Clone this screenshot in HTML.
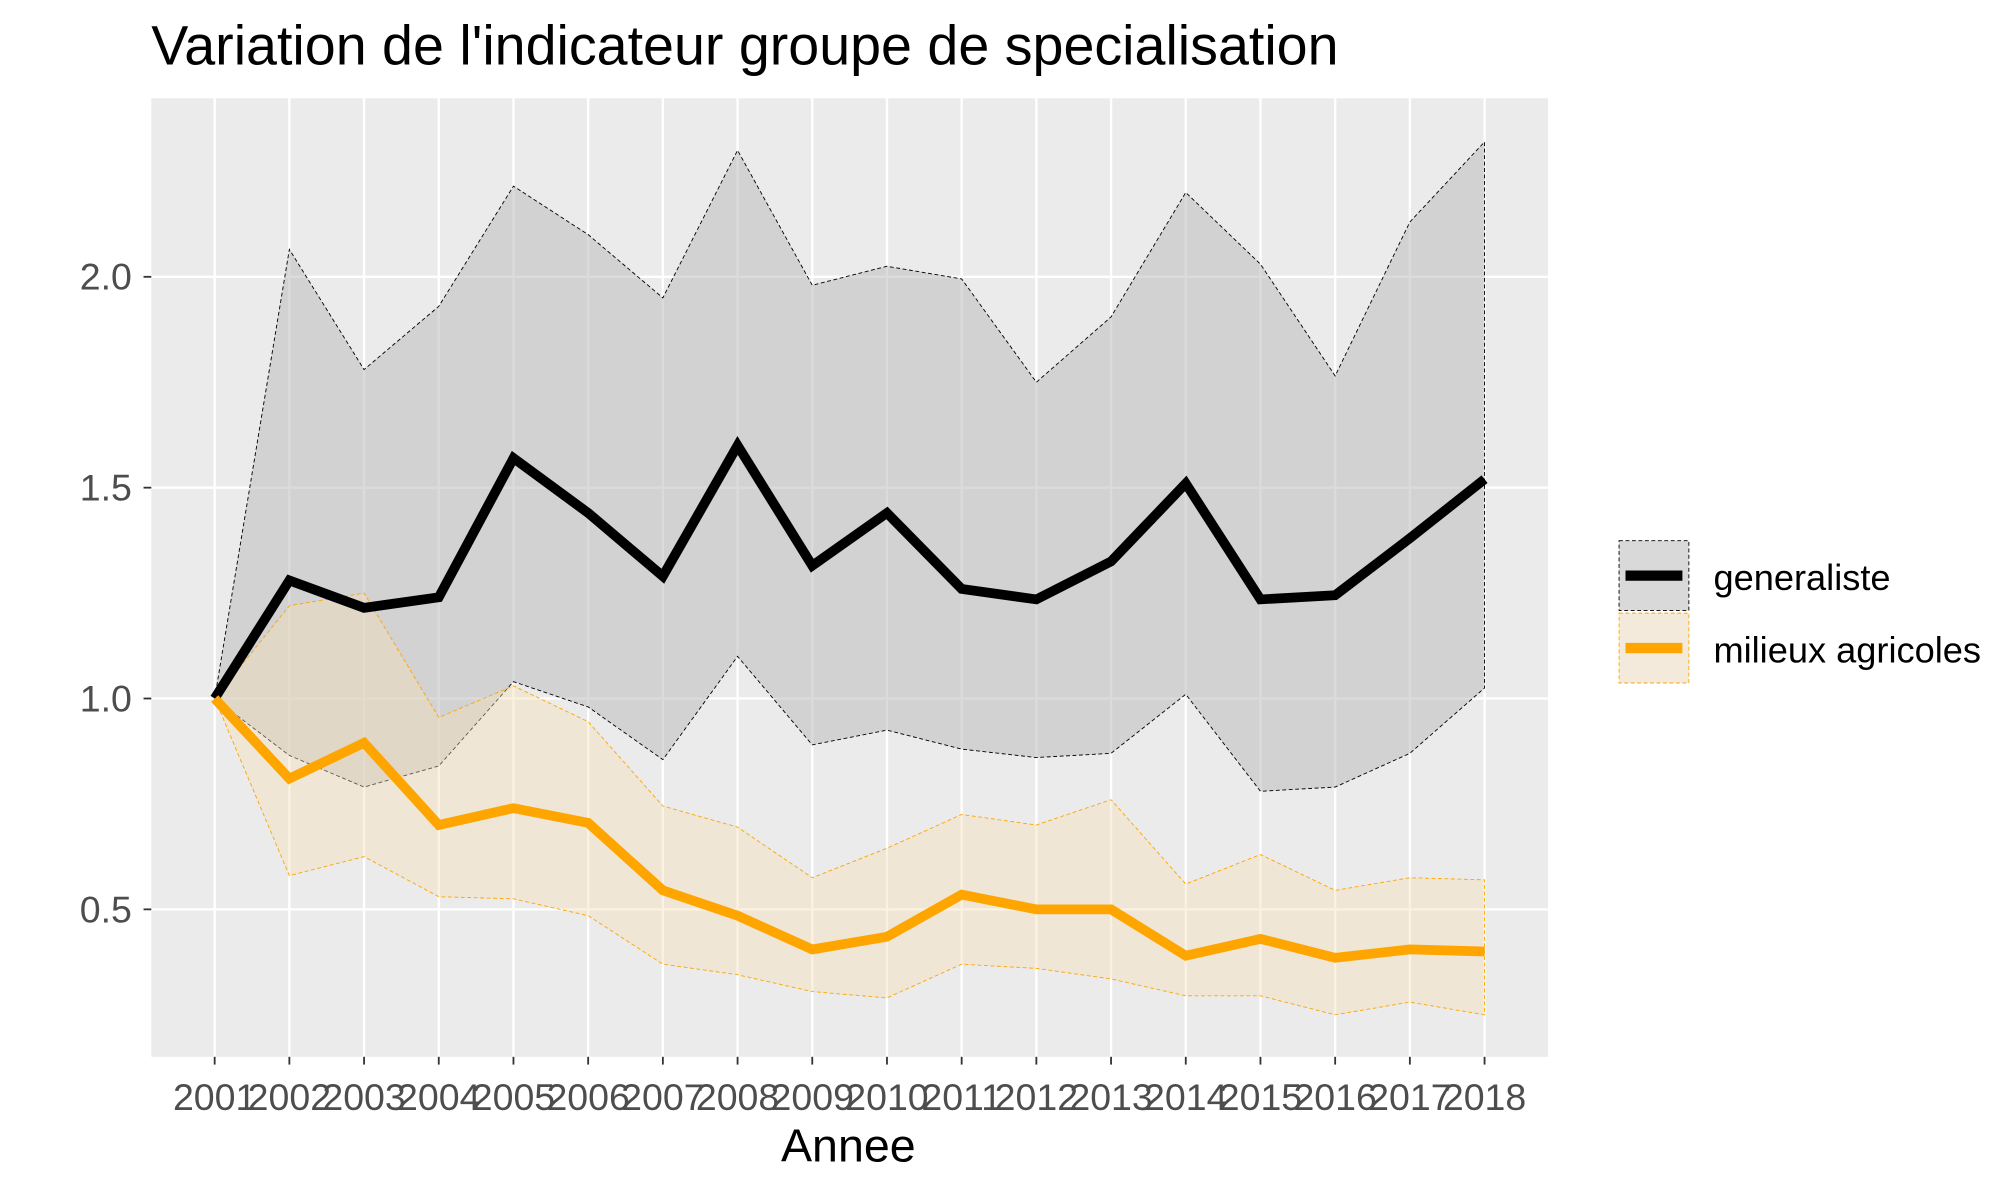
<!DOCTYPE html>
<html><head><meta charset="utf-8"><style>
html,body{margin:0;padding:0;background:#fff;}
svg{display:block;font-family:"Liberation Sans",Arial,sans-serif;}
</style></head><body>
<svg id="chart" width="2007" height="1181" viewBox="0 0 1552 913" preserveAspectRatio="none" xmlns="http://www.w3.org/2000/svg">
<text x="117" y="50" font-size="43" fill="#000">Variation de l'indicateur groupe de specialisation</text>
<rect x="117" y="76" width="1080" height="741" fill="#ebebeb"/>
<g id="grid"></g>
<g id="ribbons"></g>
<g id="lines"></g>
<g id="axes"></g>
<text x="656" y="898" font-size="36" text-anchor="middle" fill="#000">Annee</text>
<g>
<rect x="1252" y="418" width="54" height="54" fill="#d9d9d9" stroke="#000" stroke-width="0.7" stroke-dasharray="3,2"/>
<line x1="1257" y1="445" x2="1301" y2="445" stroke="#000" stroke-width="8"/>
<text x="1325" y="456" font-size="28" fill="#000">generaliste</text>
<rect x="1252" y="474" width="54" height="54" fill="#f3eadb" stroke="#ffa500" stroke-width="0.7" stroke-dasharray="3,2"/>
<line x1="1257" y1="501" x2="1301" y2="501" stroke="#ffa500" stroke-width="8"/>
<text x="1325" y="512" font-size="28" fill="#000">milieux agricoles</text>
</g>
</svg>
<script>
const years=[2001,2002,2003,2004,2005,2006,2007,2008,2009,2010,2011,2012,2013,2014,2015,2016,2017,2018];
const genMean=[1.0,1.28,1.215,1.24,1.57,1.44,1.29,1.60,1.315,1.44,1.26,1.235,1.325,1.51,1.235,1.245,1.38,1.52];
const genUpper=[1.0,2.065,1.78,1.93,2.215,2.10,1.95,2.30,1.98,2.025,1.995,1.75,1.905,2.20,2.03,1.765,2.13,2.32];
const genLower=[1.0,0.865,0.79,0.84,1.04,0.98,0.855,1.10,0.89,0.925,0.88,0.86,0.87,1.01,0.78,0.79,0.87,1.025];
const agrMean=[1.0,0.81,0.895,0.70,0.74,0.705,0.545,0.485,0.405,0.435,0.535,0.50,0.50,0.39,0.43,0.385,0.405,0.40];
const agrUpper=[1.0,1.22,1.25,0.955,1.03,0.945,0.745,0.695,0.575,0.645,0.725,0.70,0.76,0.56,0.63,0.545,0.575,0.57];
const agrLower=[1.0,0.58,0.625,0.53,0.525,0.485,0.37,0.345,0.305,0.29,0.37,0.36,0.335,0.295,0.295,0.25,0.28,0.25];
const yTicks=[0.5,1.0,1.5,2.0];
const yTickLabels=["0.5","1.0","1.5","2.0"];

const NS="http://www.w3.org/2000/svg";
const X0=166,X1=1148,Y1=540,PX=326;
function xs(i){return X0+(X1-X0)*i/(years.length-1);}
function ys(v){return Y1-(v-1)*PX;}
function mk(tag,attrs,parent){const e=document.createElementNS(NS,tag);for(const k in attrs)e.setAttribute(k,attrs[k]);parent.appendChild(e);return e;}
const grid=document.getElementById('grid'),rib=document.getElementById('ribbons'),lines=document.getElementById('lines'),axes=document.getElementById('axes');

yTicks.forEach((v,i)=>{const y=ys(v);
const l=mk('line',{x1:117,x2:1197,y1:y,y2:y,stroke:'#fff','stroke-width':1.8},grid);


const t=mk('line',{x1:111,x2:117,y1:y,y2:y,stroke:'#333','stroke-width':1.4},axes);


const tx=mk('text',{x:102,y:y+10,'font-size':29,'text-anchor':'end',fill:'#4d4d4d'},axes);tx.textContent=yTickLabels[i];

});
years.forEach((yr,i)=>{const x=xs(i);
const l=mk('line',{x1:x,x2:x,y1:76,y2:817,stroke:'#fff','stroke-width':1.8},grid);


const t=mk('line',{x1:x,x2:x,y1:817,y2:823,stroke:'#333','stroke-width':1.4},axes);


const tx=mk('text',{x:x,y:858,'font-size':29,'text-anchor':'middle',fill:'#4d4d4d'},axes);tx.textContent=yr;

});

function ribbon(up,lo,fill,op,stroke,name){
 let d='M'+up.map((v,i)=>xs(i)+','+ys(v)).join('L');
 for(let i=lo.length-1;i>=0;i--)d+='L'+xs(i)+','+ys(lo[i]);d+='Z';
 const p=mk('path',{d:d,fill:fill,'fill-opacity':op,stroke:stroke,'stroke-width':0.7,'stroke-dasharray':'3,2'},rib);
 
 
}
ribbon(genUpper,genLower,'#bebebe',0.55,'#000','ribbon-generaliste');
ribbon(agrUpper,agrLower,'#f5deb3',0.4,'#ffa500','ribbon-milieux-agricoles');
function line(vals,col,name){
 const p=mk('polyline',{points:vals.map((v,i)=>xs(i)+','+ys(v)).join(' '),fill:'none',stroke:col,'stroke-width':7.5,'stroke-linejoin':'miter'},lines);
 
 
}
line(genMean,'#000','line-generaliste');
line(agrMean,'#ffa500','line-milieux-agricoles');
</script>
</body></html>
